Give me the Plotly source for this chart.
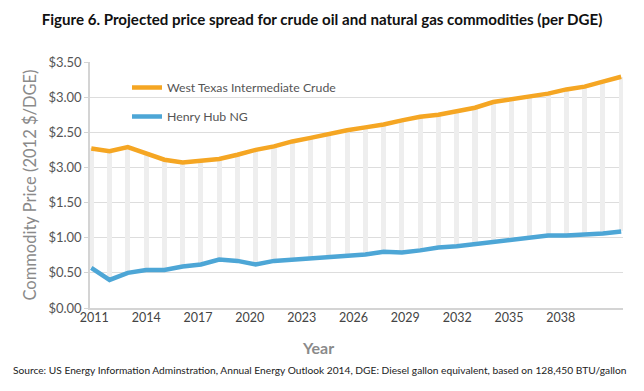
import plotly.graph_objects as go

years = list(range(2011, 2041))
wti = [2.27, 2.23, 2.29, 2.20, 2.11, 2.07, 2.09, 2.12, 2.18, 2.25,
       2.30, 2.37, 2.42, 2.48, 2.53, 2.57, 2.61, 2.67, 2.72, 2.75,
       2.80, 2.85, 2.93, 2.97, 3.00, 3.05, 3.11, 3.15, 3.22, 3.29]
henry_hub = [0.57, 0.40, 0.50, 0.54, 0.54, 0.59, 0.62, 0.69, 0.67, 0.62,
             0.67, 0.69, 0.71, 0.72, 0.74, 0.76, 0.80, 0.79, 0.82, 0.86,
             0.88, 0.91, 0.94, 0.96, 1.00, 1.03, 1.03, 1.04, 1.06, 1.09]
y_tick_vals = [0, 0.5, 1.0, 1.5, 2.0, 2.5, 3.0, 3.5]
y_tick_text = ["$0.00", "$0.50", "$1.00", "$1.50", "$3.00", "$2.50", "$3.00", "$3.50"]
x_tick_years = [2011, 2014, 2017, 2020, 2023, 2026, 2029, 2032, 2035, 2038]

FONT = "Lato"
PAGE = 8  # default body margin of the html page
W, H = 644 - PAGE, 391 - PAGE
ML, MR, MT, MB = 90 - PAGE, 21, 62 - PAGE, 83
plot_w = W - ML - MR
plot_h = H - MT - MB


def px_x(page_x):
    return (page_x - PAGE - ML) / plot_w


def px_y(page_y):
    return (H - MB - (page_y - PAGE)) / plot_h


spread = [w - h for w, h in zip(wti, henry_hub)]

fig = go.Figure()
fig.add_trace(go.Bar(x=years, y=spread, base=henry_hub, width=0.28,
                     marker=dict(color="#eeeeee", line=dict(width=0)),
                     showlegend=False, hoverinfo="skip"))
fig.add_trace(go.Scatter(x=years, y=wti, mode="lines", name="West Texas Intermediate Crude",
                         line=dict(color="#f5a623", width=4.5), legendgroup="a"))
fig.add_trace(go.Scatter(x=years, y=henry_hub, mode="lines", name="Henry Hub NG",
                         line=dict(color="#4da6d6", width=4.5), legendgroup="b"))
# helper trace so the label axis is drawn
fig.add_trace(go.Scatter(x=[x_tick_years[0]], y=[0], xaxis="x2", mode="markers",
                         marker=dict(opacity=0), showlegend=False, hoverinfo="skip"))

fig.update_layout(
    width=W, height=H,
    margin=dict(l=ML, r=MR, t=MT, b=MB),
    plot_bgcolor="white", paper_bgcolor="white",
    font=dict(family=FONT, color="#555555"),
    bargap=0,
    title=dict(text="<b>Figure 6. Projected price spread for crude oil and natural gas commodities (per DGE)</b>",
               x=(322 - PAGE) / W, xanchor="center", y=1 - (20 - PAGE) / H, yanchor="middle",
               font=dict(family=FONT, size=15.1, color="#111111")),
    xaxis=dict(range=[2010.93, 2040.1], showticklabels=False, showgrid=False, automargin=False,
               showline=True, linecolor="#d4d4d4", linewidth=1.5, zeroline=False, ticks=""),
    xaxis2=dict(overlaying="x", anchor="y", side="bottom", range=[2010.75, 2041.6],
                automargin=False,
                tickvals=x_tick_years, ticktext=[str(v) for v in x_tick_years],
                showgrid=False, showline=False, zeroline=False, ticks="",
                tickfont=dict(family=FONT, size=12.5, color="#444444")),
    yaxis=dict(range=[0, 3.5], tickvals=y_tick_vals, ticktext=y_tick_text, automargin=False,
               showgrid=True, gridcolor="#dddddd", gridwidth=1,
               showline=True, linecolor="#d4d4d4", linewidth=1.5, zeroline=False,
               ticks="outside", ticklen=4, tickcolor="#d4d4d4",
               tickfont=dict(family=FONT, size=13, color="#555555"),
               title=dict(text="Commodity Price (2012 $/DGE)",
                          font=dict(family=FONT, size=16.5, color="#8a8a8a"), standoff=8)),
    legend=dict(x=px_x(127), y=px_y(73), xanchor="left", yanchor="top", bgcolor="rgba(0,0,0,0)",
                traceorder="grouped", tracegroupgap=10,
                font=dict(family=FONT, size=12.3, color="#555555")),
    annotations=[
        dict(text="<b>Year</b>", x=px_x(318), xref="paper", xanchor="center",
             y=px_y(347), yref="paper", yanchor="middle", showarrow=False,
             font=dict(family=FONT, size=16, color="#8a8a8a")),
        dict(text="Source: US Energy Information Adminstration, Annual Energy Outlook 2014, DGE: Diesel gallon equivalent, based on 128,450 BTU/gallon",
             x=px_x(320), xref="paper", xanchor="center",
             y=px_y(370), yref="paper", yanchor="middle",
             showarrow=False,
             font=dict(family=FONT, size=10.2, color="#222222")),
    ],
)

fig.write_html("out.html")
